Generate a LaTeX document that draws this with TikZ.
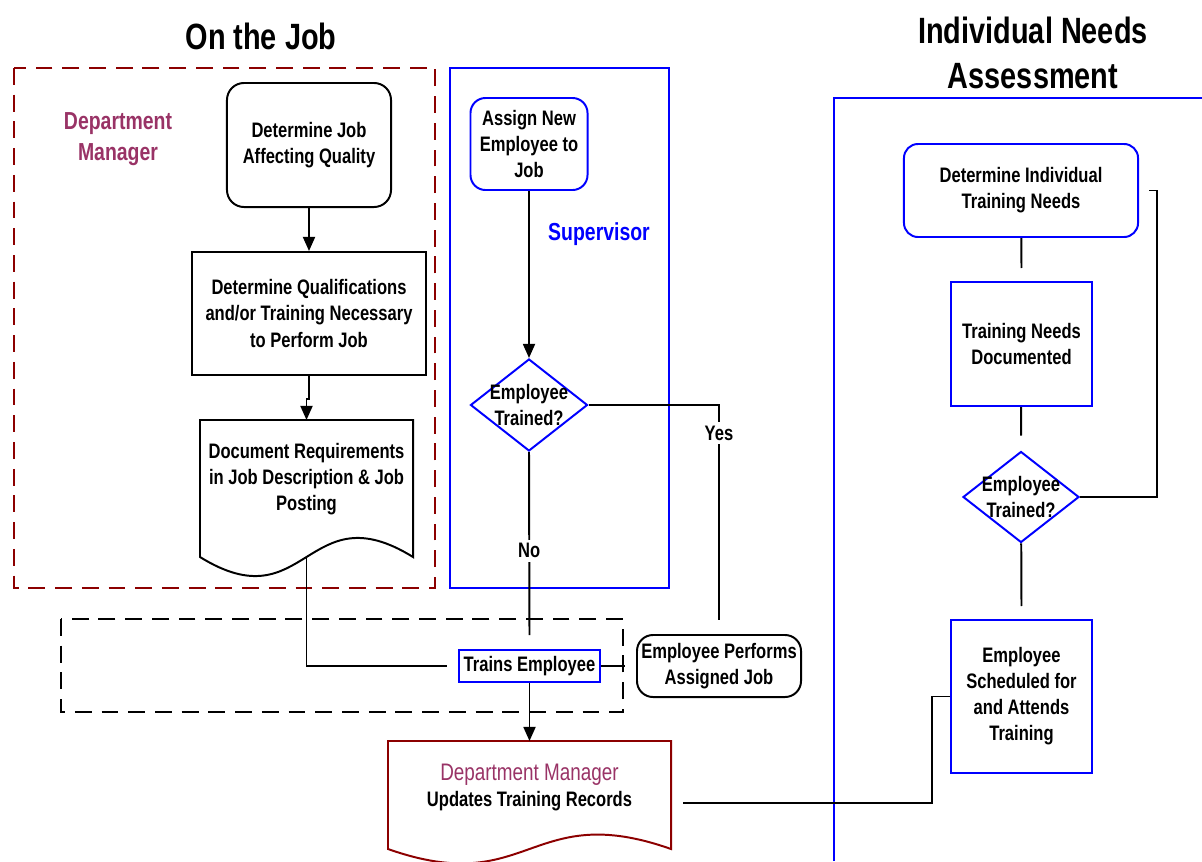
\documentclass[tikz,border=0pt]{standalone}
\usepackage{fontspec}
\setmainfont{Liberation Sans}[FakeStretch=0.79]
\definecolor{deptred}{RGB}{140, 0, 0}
\definecolor{deptplum}{RGB}{153, 51, 102}
\definecolor{supblue}{RGB}{0, 0, 255}
\usetikzlibrary{shapes, arrows.meta, positioning, calc}

\begin{document}
\begin{tikzpicture}[x=0.025cm, y=-0.025cm, line width=1.4pt,
  txt/.style={font=\fontsize{14.9}{18.5}\selectfont\bfseries, align=center, inner sep=0pt},
  box/.style={txt, draw, rectangle},
  dec/.style={draw=supblue, diamond, inner sep=0pt, minimum width=29.25mm, minimum height=23mm},
  lbl/.style={txt, fill=white, inner sep=2.5pt},
  arr/.style={-{Triangle[length=10pt, width=8.5pt]}}]
  \useasboundingbox (0,0) rectangle (1202,861);

  % swimlanes
  \draw[deptred, dash pattern=on 12pt off 7pt] (14,68) rectangle (435,588);
  \draw[supblue] (450,68) rectangle (669,588);
  \draw[dash pattern=on 12pt off 7pt] (61,619) rectangle (623,712);
  \draw[supblue] (834,861) -- (834,98) -- (1202,98);

  % titles
  \node[txt, font=\fontsize{26}{32}\selectfont\bfseries] (jobtitle) at (261,36) {On the Job};
  \node[txt, font=\fontsize{26}{32}\selectfont\bfseries] (inatitle) at (1033,53) {Individual Needs\\Assessment};
  \node[txt, deptplum, font=\fontsize{17.5}{22}\selectfont\bfseries] (deptlbl) at (118,139) {Department\\Manager};
  \node[txt, supblue, font=\fontsize{17.5}{22}\selectfont\bfseries] (suplbl) at (599,234) {Supervisor};

  % department manager
  \node[box, rounded corners=4.25mm, minimum width=41mm, minimum height=31mm] (job) at (309,145) {Determine Job\\Affecting Quality};
  \node[box, minimum width=58.5mm, minimum height=30.75mm] (qual) at (309,313.5) {Determine Qualifications\\and/or Training Necessary\\to Perform Job};
  \node[txt, minimum width=52.75mm, minimum height=29mm] (docreq) at (306.5,479) {Document Requirements\\in Job Description \& Job\\Posting};
  \draw (docreq.north west) -- (docreq.north east) -- ($(docreq.south east)+(0,19)$)
    .. controls ($(docreq.south)+(0,-47)$) and ($(docreq.south)+(0,85)$) .. ($(docreq.south west)+(0,19)$) -- cycle;

  % supervisor
  \node[box, draw=supblue, rounded corners=3.75mm, minimum width=29.25mm, minimum height=23mm] (assign) at (529,144) {Assign New\\Employee to\\Job};
  \node[dec, label={[txt]center:Employee\\Trained?}] (tr1) at (529,405) {};

  % training
  \node[box, draw=supblue, minimum width=35.25mm, minimum height=8mm] (trains) at (529.5,666) {Trains Employee};
  \node[box, rounded corners=4mm, minimum width=41mm, minimum height=15.5mm] (perform) at (719,666) {Employee Performs\\Assigned Job};
  \node[txt, minimum width=70.25mm, minimum height=22.75mm] (recs) at (529.5,787.5)
    {{\fontsize{17}{18.5}\selectfont\mdseries\color{deptplum}Department Manager}\\Updates Training Records};
  \draw[deptred] (recs.north west) -- (recs.north east) -- ($(recs.south east)+(0,15)$)
    .. controls ($(recs.south)+(0,-35)$) and ($(recs.south)+(0,65)$) .. ($(recs.south west)+(0,15)$) -- cycle;

  % individual needs assessment
  \node[box, draw=supblue, rounded corners=3.5mm, minimum width=58.5mm, minimum height=23.25mm] (indiv) at (1021,190.5) {Determine Individual\\Training Needs};
  \node[box, draw=supblue, minimum width=35.25mm, minimum height=31mm] (needs) at (1021.5,344) {Training Needs\\Documented};
  \node[dec, minimum width=29mm, minimum height=22.75mm, label={[txt]center:Employee\\Trained?}] (tr2) at (1021,497) {};
  \node[box, draw=supblue, minimum width=35.25mm, minimum height=38.25mm] (sched) at (1021.5,696.5) {Employee\\Scheduled for\\and Attends\\Training};

  % connectors
  \draw[arr] (job) -- (qual);
  \draw[arr] (qual.south) -- ++(0,23) -| (docreq.north);
  \draw[arr] (assign) -- (tr1);
  \draw ($(docreq.south)+(0,19)$) |- ([xshift=-2.75mm]trains.west);
  \draw (tr1.east) -| ([yshift=3.5mm]perform.north) node[lbl, pos=0.565] {Yes};
  \draw (tr1.south) -- ([yshift=3.5mm]trains.north) node[lbl, pos=0.54] {No};
  \draw (trains.east) -- ([xshift=-2.75mm]perform.west);
  \draw[arr] (trains) -- (recs);
  \draw ([xshift=3mm, yshift=-3.9mm]recs.east) -| ([xshift=-4.5mm]sched.west) -- (sched.west);
  \draw (indiv) -- ([yshift=3.25mm]needs.north);
  \draw (needs) -- ([yshift=3.75mm]tr2.north);
  \draw (tr2) -- ([yshift=3.25mm]sched.north);
  \draw (tr2.east) -| ([xshift=4.5mm]indiv.east) -- ([xshift=2.5mm]indiv.east);
\end{tikzpicture}
\end{document}
